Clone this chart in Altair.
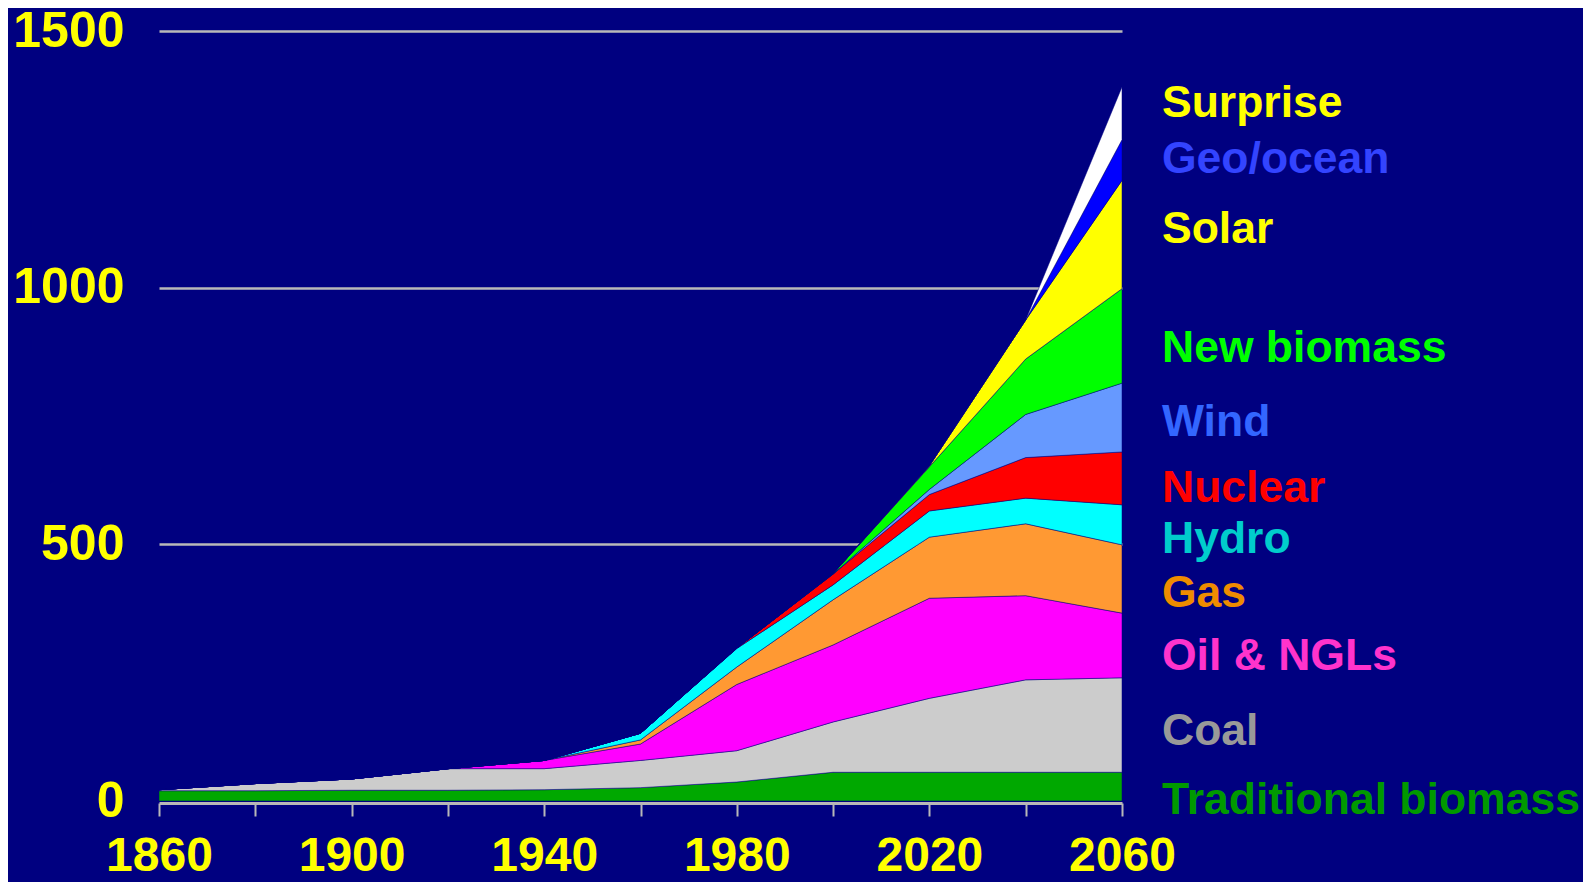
import altair as alt
import pandas as pd

years = [1860, 1880, 1900, 1920, 1940, 1960, 1980, 2000, 2020, 2040, 2060]

sources = ["Traditional biomass", "Coal", "Oil & NGLs", "Gas", "Hydro", "Nuclear",
           "Wind", "New biomass", "Solar", "Geo/ocean", "Surprise"]

trad_biomass = [20, 20, 21, 21, 22, 26, 37, 56, 56, 56, 56]
coal = [2, 14, 22, 42, 41, 53, 61, 98, 144, 180, 184]
oil_ngls = [0, 0, 0, 0, 16, 32, 129, 150, 195, 164, 126]
gas = [0, 0, 0, 0, 0, 8, 34, 88, 119, 140, 133]
hydro = [0, 0, 0, 0, 0, 13, 36, 29, 51, 50, 78]
nuclear = [0, 0, 0, 0, 0, 0, 1, 21, 32, 79, 103]
wind = [0, 0, 0, 0, 0, 0, 0, 0, 10, 84, 134]
new_biomass = [0, 0, 0, 0, 0, 0, 0, 1, 44, 108, 184]
solar = [0, 0, 0, 0, 0, 0, 0, 0, 2, 76, 211]
geo_ocean = [0, 0, 0, 0, 0, 0, 0, 0, 0, 0, 79]
surprise = [0, 0, 0, 0, 0, 0, 0, 0, 0, 0, 103]

area_colors = ["#00A800", "#CCCCCC", "#FF00FF", "#FF9933", "#00FFFF", "#FF0000",
               "#6699FF", "#00FF00", "#FFFF00", "#0000FF", "#FFFFFF"]
label_colors = ["#009900", "#999999", "#FF33CC", "#EE8C00", "#00CCCC", "#FF0000",
                "#3366FF", "#00FF00", "#FFFF00", "#3344FF", "#FFFF00"]
label_pos = [0, 135, 281, 403, 508, 607, 737, 880, 1113, 1249, 1358]

y_ticks = [0, 500, 1000, 1500]
x_ticks = [1860, 1880, 1900, 1920, 1940, 1960, 1980, 2000, 2020, 2040, 2060]

series = [trad_biomass, coal, oil_ngls, gas, hydro, nuclear, wind,
          new_biomass, solar, geo_ocean, surprise]

rows = []
for rank, (name, vals) in enumerate(zip(sources, series)):
    for yr, v in zip(years, vals):
        rows.append({"year": yr, "source": name, "value": v, "rank": rank})
df = pd.DataFrame(rows)

lab = pd.DataFrame({"name": sources, "pos": label_pos, "lc": label_colors,
                    "year": [2060] * len(sources)})

FONT = "Liberation Sans"
YELLOW = "#FFFF00"
GRID = "#B8B8B8"

x_axis = alt.Axis(values=x_ticks, format="d",
                  labelExpr="(datum.value - 1860) % 40 == 0 ? datum.label : ''",
                  grid=False, domainColor=GRID, domainWidth=3,
                  tickColor=GRID, tickWidth=2, tickSize=13, offset=2,
                  labelColor=YELLOW, labelFont=FONT, labelFontSize=48,
                  labelFontWeight="bold", labelPadding=16, title=None,
                  labelFlush=False, labelOverlap=False)
y_axis = alt.Axis(values=y_ticks, format="d", grid=True, gridColor=GRID, gridWidth=2.5,
                  gridOpacity={"condition": {"test": "datum.value === 0", "value": 0},
                               "value": 1},
                  domain=False, ticks=False,
                  labelColor=YELLOW, labelFont=FONT, labelFontSize=50,
                  labelFontWeight="bold", labelPadding=35, title=None)
x_scale = alt.Scale(domain=[1860, 2060], nice=False, zero=False)
y_scale = alt.Scale(domain=[0, 1500], nice=False)

area = alt.Chart(df).mark_area(
    interpolate="linear", stroke="#000080", strokeWidth=0.5
).encode(
    x=alt.X("year:Q", scale=x_scale, axis=x_axis),
    y=alt.Y("value:Q", stack="zero", scale=y_scale, axis=y_axis),
    color=alt.Color("source:N", scale=alt.Scale(domain=sources, range=area_colors),
                    legend=None),
    order=alt.Order("rank:Q", sort="ascending"),
)

labels = alt.Chart(lab).mark_text(
    align="left", baseline="middle", dx=40, fontSize=44.5, fontWeight="bold", font=FONT
).encode(
    x=alt.X("year:Q", scale=x_scale, axis=x_axis),
    y=alt.Y("pos:Q", scale=y_scale, axis=y_axis),
    text="name:N",
    color=alt.Color("lc:N", scale=None),
)

chart = alt.layer(area, labels).properties(
    width=963, height=770,
    padding={"left": 151, "top": 23, "right": 461, "bottom": 81},
    autosize=alt.AutoSizeParams(type="none"),
    background="#000080",
).configure_view(stroke=None)

chart.save("out.html", embed_options={"renderer": "svg", "actions": False})
